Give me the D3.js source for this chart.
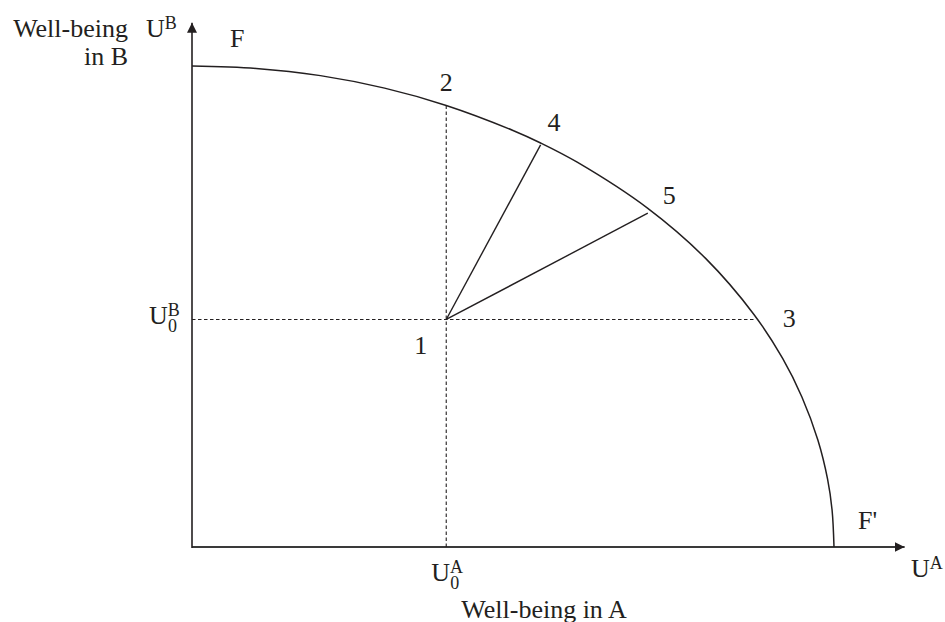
<!DOCTYPE html>
<html>
<head>
<meta charset="utf-8">
<script src="https://cdn.jsdelivr.net/npm/d3@7"></script>
<style>
  html, body { margin: 0; padding: 0; background: #fff; }
  svg text { font-family: "Liberation Serif", "Times New Roman", serif; fill: #231f20; }
</style>
</head>
<body>
<div id="chart"></div>
<script>
// Utility frontier F-F' (well-being in A, well-being in B)
const frontierA = [0, 10, 20, 30, 39.6, 50, 54.3, 60, 71, 80, 87.5, 92, 95, 97.5, 99, 99.7, 100];
const frontierB = [100, 99.5, 98, 95.4, 91.8, 86.6, 84, 80, 70.4, 60, 48.4, 39.2, 31.2, 22.2, 14.1, 7.7, 0];

// Status quo point 1 and the moves from it
const pointNames = ['1', '2', '3', '4', '5'];
const pointA = [39.6, 39.6, 87.5, 54.3, 71.0];
const pointB = [47.3, 91.8, 47.3, 83.6, 69.4];

// Axes extents (arrow tips)
const axisMaxA = 111;
const axisMaxB = 109;

const width = 945;
const height = 622;

const svg = d3.select('#chart')
  .append('svg')
  .attr('width', width)
  .attr('height', height);

// Scales
const x = d3.scaleLinear().domain([0, 100]).range([192, 834]);
const y = d3.scaleLinear().domain([0, 100]).range([547, 66]);

// Arrowhead
svg.append('defs').append('marker')
  .attr('id', 'arrow')
  .attr('markerUnits', 'userSpaceOnUse')
  .attr('markerWidth', 10)
  .attr('markerHeight', 10)
  .attr('viewBox', '0 -5 10 10')
  .attr('refX', 10)
  .attr('refY', 0)
  .attr('orient', 'auto')
  .append('path')
  .attr('d', 'M0,-5L10,0L0,5Z')
  .attr('fill', '#231f20');

// Axes (no ticks, just lines with arrows)
svg.append('line')
  .attr('x1', x(0)).attr('y1', y(0))
  .attr('x2', x(axisMaxA)).attr('y2', y(0))
  .attr('stroke', '#3a3a3a')
  .attr('stroke-width', 2)
  .attr('marker-end', 'url(#arrow)');

svg.append('line')
  .attr('x1', x(0)).attr('y1', y(0) + 1)
  .attr('x2', x(0)).attr('y2', y(axisMaxB))
  .attr('stroke', '#231f20')
  .attr('stroke-width', 1.6)
  .attr('marker-end', 'url(#arrow)');

// Dashed guides from point 1
const p1 = [x(pointA[0]), y(pointB[0])];
const dashed = [
  [x(pointA[0]), y(0), x(pointA[1]), y(pointB[1])],
  [x(0), p1[1], x(pointA[2]), y(pointB[2])]
];
svg.selectAll('line.guide')
  .data(dashed)
  .enter()
  .append('line')
  .attr('class', 'guide')
  .attr('x1', d => d[0]).attr('y1', d => d[1])
  .attr('x2', d => d[2]).attr('y2', d => d[3])
  .attr('stroke', '#231f20')
  .attr('stroke-width', 1.1)
  .attr('stroke-dasharray', '3.5,2.5');

// Solid moves 1 -> 4 and 1 -> 5
svg.selectAll('line.move')
  .data([3, 4])
  .enter()
  .append('line')
  .attr('class', 'move')
  .attr('x1', p1[0]).attr('y1', p1[1])
  .attr('x2', i => x(pointA[i])).attr('y2', i => y(pointB[i]))
  .attr('stroke', '#231f20')
  .attr('stroke-width', 1.4);

// Frontier curve
const frontier = frontierA.map((a, i) => [a, frontierB[i]]);
const line = d3.line()
  .x(d => x(d[0]))
  .y(d => y(d[1]))
  .curve(d3.curveCatmullRom.alpha(0.5));

svg.append('path')
  .datum(frontier)
  .attr('fill', 'none')
  .attr('stroke', '#231f20')
  .attr('stroke-width', 1.5)
  .attr('d', line);

// Point labels
const labelOffsets = [
  { dx: -19, dy: 35, anchor: 'end' },
  { dx: 0, dy: -14, anchor: 'middle' },
  { dx: 29, dy: 8, anchor: 'start' },
  { dx: 7, dy: -14, anchor: 'start' },
  { dx: 15, dy: -9, anchor: 'start' }
];
svg.selectAll('text.pt')
  .data(pointNames)
  .enter()
  .append('text')
  .attr('class', 'pt')
  .attr('x', (d, i) => x(pointA[i]) + labelOffsets[i].dx)
  .attr('y', (d, i) => y(pointB[i]) + labelOffsets[i].dy)
  .attr('text-anchor', (d, i) => labelOffsets[i].anchor)
  .style('font-size', '26px')
  .text(d => d);

// F and F'
svg.append('text')
  .attr('x', x(0) + 38).attr('y', y(100) - 19)
  .style('font-size', '26px')
  .text('F');
svg.append('text')
  .attr('x', x(100) + 24).attr('y', y(0) - 18)
  .style('font-size', '26px')
  .text("F'");

// U with superscript / subscript, one text element
function uLabel(x0, base, sup, sub) {
  const t = svg.append('text')
    .attr('x', x0).attr('y', base)
    .style('font-size', '26px');
  t.append('tspan').text('U');
  t.append('tspan')
    .attr('dy', -8)
    .style('font-size', '18px')
    .text(sup);
  if (sub) {
    t.append('tspan')
      .attr('x', x0 + 19)
      .attr('dy', 16)
      .style('font-size', '18px')
      .text(sub);
  }
}

uLabel(x(0) - 43, p1[1] + 5, 'B', '0');
uLabel(x(pointA[0]) - 15, y(0) + 34, 'A', '0');
uLabel(x(0) - 46, 37, 'B', null);
uLabel(911, y(0) + 30, 'A', null);

// Axis titles
svg.append('text')
  .attr('x', 128).attr('y', 37)
  .attr('text-anchor', 'end')
  .style('font-size', '26px')
  .text('Well-being');
svg.append('text')
  .attr('x', 128).attr('y', 65)
  .attr('text-anchor', 'end')
  .style('font-size', '26px')
  .text('in B');
svg.append('text')
  .attr('x', 544).attr('y', 618)
  .attr('text-anchor', 'middle')
  .style('font-size', '26px')
  .text('Well-being in A');
</script>
</body>
</html>
